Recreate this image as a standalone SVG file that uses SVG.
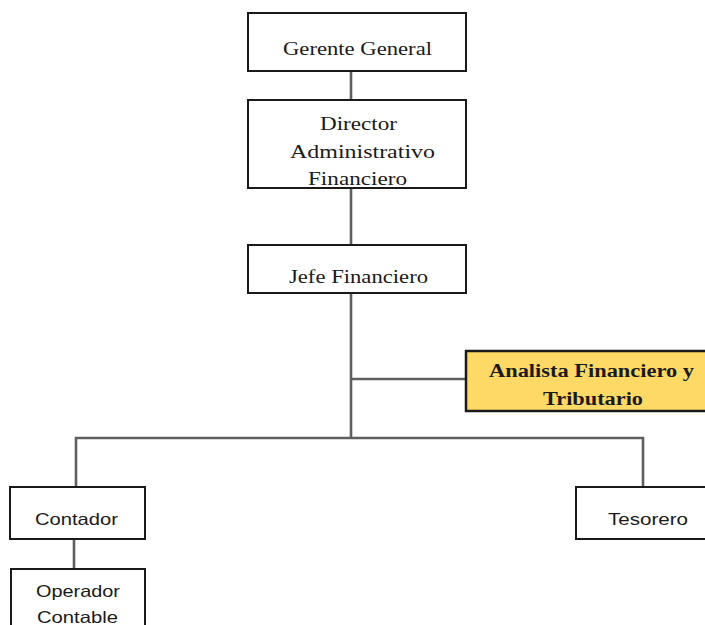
<svg xmlns="http://www.w3.org/2000/svg" width="705" height="625" viewBox="0 0 705 625">
  <style>
    .box { fill: #ffffff; stroke: #1a1a1a; stroke-width: 2; }
    .hl { fill: #ffd966; stroke: #1a1a1a; stroke-width: 2.5; }
    .link { fill: none; stroke: #5f5f5f; stroke-width: 2.6; }
    .serif { font-family: "Liberation Serif", "Times New Roman", serif; font-size: 18px; fill: #1a1a1a; }
    .bold { font-weight: bold; }
    .sans { font-family: "Liberation Sans", Arial, sans-serif; font-size: 16.5px; fill: #1a1a1a; }
  </style>
  <rect width="705" height="625" fill="#ffffff"/>

  <!-- connectors -->
  <g id="connectors">
    <line class="link" x1="351" y1="71" x2="351" y2="100"/>
    <line class="link" x1="351" y1="188" x2="351" y2="245"/>
    <line class="link" x1="351" y1="293" x2="351" y2="438"/>
    <line class="link" x1="351" y1="379" x2="466" y2="379"/>
    <polyline class="link" points="76,487 76,438 643,438 643,487"/>
    <line class="link" x1="74" y1="539" x2="74" y2="569"/>
  </g>

  <g id="gerente-general">
    <rect class="box" x="248" y="13" width="218" height="58"/>
    <text class="serif" x="283" y="55" textLength="149" lengthAdjust="spacingAndGlyphs">Gerente General</text>
  </g>

  <g id="director-administrativo">
    <rect class="box" x="248" y="100" width="218" height="88"/>
    <text class="serif" x="320" y="130" textLength="77" lengthAdjust="spacingAndGlyphs">Director</text>
    <text class="serif" x="290" y="158" textLength="145" lengthAdjust="spacingAndGlyphs">Administrativo</text>
    <text class="serif" x="308" y="185" textLength="99" lengthAdjust="spacingAndGlyphs">Financiero</text>
  </g>

  <g id="jefe-financiero">
    <rect class="box" x="248" y="245" width="218" height="48"/>
    <text class="serif" x="289" y="283" textLength="139" lengthAdjust="spacingAndGlyphs">Jefe Financiero</text>
  </g>

  <g id="analista">
    <rect class="hl" x="466" y="351" width="245" height="60"/>
    <text class="serif bold" x="489" y="377" textLength="205" lengthAdjust="spacingAndGlyphs">Analista Financiero y</text>
    <text class="serif bold" x="543" y="405" textLength="100" lengthAdjust="spacingAndGlyphs">Tributario</text>
  </g>

  <g id="contador">
    <rect class="box" x="10" y="487" width="135" height="52"/>
    <text class="sans" x="35" y="525" textLength="83" lengthAdjust="spacingAndGlyphs">Contador</text>
  </g>

  <g id="operador-contable">
    <rect class="box" x="11" y="569" width="134" height="70"/>
    <text class="sans" x="36" y="597" textLength="84" lengthAdjust="spacingAndGlyphs">Operador</text>
    <text class="sans" x="37" y="623" textLength="81" lengthAdjust="spacingAndGlyphs">Contable</text>
  </g>

  <g id="tesorero">
    <rect class="box" x="576" y="487" width="140" height="52"/>
    <text class="sans" x="608" y="525" textLength="80" lengthAdjust="spacingAndGlyphs">Tesorero</text>
  </g>
</svg>
